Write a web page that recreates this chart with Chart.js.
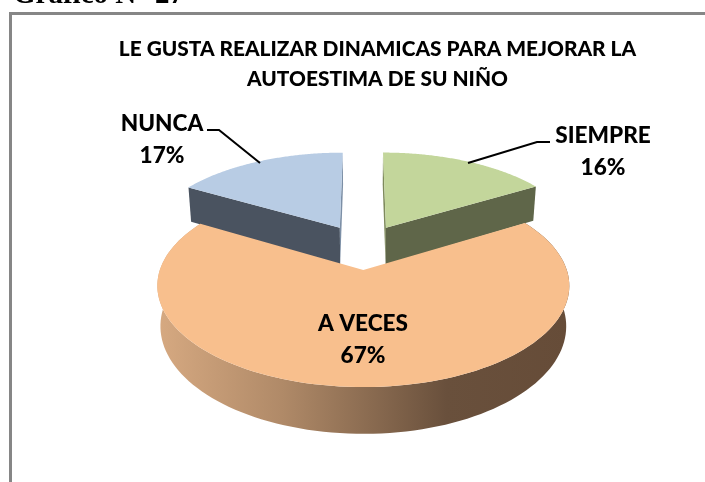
<!DOCTYPE html>
<html><head><meta charset="utf-8">
<script src="https://cdn.jsdelivr.net/npm/chart.js@4"></script>
<style>
html,body{margin:0;padding:0;background:#fff;overflow:hidden}
#wrap{position:relative;width:705px;height:482px;overflow:hidden}
#head{position:absolute;left:13px;top:-23px;font:bold 29px/32px "Liberation Serif",serif;color:#000;white-space:nowrap}
#frame{position:absolute;left:9px;top:12px;right:-10px;bottom:-10px;border:3px solid #868686;box-sizing:border-box}
canvas{position:absolute;left:0;top:0}
</style></head><body>
<div id="wrap">
<canvas id="c" width="705" height="482"></canvas>
<div id="frame"></div>
<div id="head">Gráfico N° 27</div>
</div>
<script>
const categories = ["SIEMPRE", "A VECES", "NUNCA"];
const values = [16.4, 67, 16.6];
const titleLines = ["LE GUSTA REALIZAR DINAMICAS PARA MEJORAR LA", "AUTOESTIMA DE SU NIÑO"];
const topColors = ["#C3D69B", "#F8BF8D", "#B8CCE4"];
const sideColors = ["#5F6649", "#664C38", "#4A5360"];
const edgeColors = ["#7E8A5C", "#664C38", "#7C8FA6"];

// view of the tilted pie
const CX = 363, CY = 246.7, AX = 196, BY = 91.7, PERSP = 0.15, DEPTH = 38, BASE_X = 0.985, EXPLODE = 0.245;
function proj(u, v, low) {
  const w = 1 - PERSP * v;
  return [CX + AX * u / w * (low ? BASE_X : 1), CY + (BY * v + (low ? DEPTH : 0)) / w];
}
function slicePts(arc, low) {
  const p = arc.getProps(["startAngle", "endAngle"], true);
  const mid = (p.startAngle + p.endAngle) / 2;
  const ox = Math.cos(mid) * EXPLODE, oy = Math.sin(mid) * EXPLODE;
  const pts = [], n = 120;
  for (let i = 0; i <= n; i++) {
    const a = p.startAngle + (p.endAngle - p.startAngle) * i / n;
    pts.push(proj(Math.cos(a) + ox, Math.sin(a) + oy, low));
  }
  return { apex: proj(ox, oy, low), rim: pts };
}
function poly(ctx, pts, fill) {
  ctx.beginPath();
  pts.forEach((q, i) => i ? ctx.lineTo(q[0], q[1]) : ctx.moveTo(q[0], q[1]));
  ctx.closePath();
  ctx.fillStyle = fill; ctx.fill();
}
const tilted = {
  id: "tilted",
  beforeDatasetDraw(chart) {
    const ctx = chart.ctx, arcs = chart.getDatasetMeta(0).data;
    [0, 2, 1].forEach(i => {
      const T = slicePts(arcs[i], false), L = slicePts(arcs[i], true);
      if (i === 1) {
        const g = ctx.createLinearGradient(158, 0, 570, 0);
        g.addColorStop(0, "#D6A981"); g.addColorStop(0.3, "#B08A68");
        g.addColorStop(0.7, "#69503C"); g.addColorStop(1, sideColors[1]);
        poly(ctx, T.rim.concat(L.rim.slice().reverse()), g);
      } else {
        const last = T.rim.length - 1;
        const a0 = [T.apex, T.rim[0], L.rim[0], L.apex];
        const a1 = [T.apex, T.rim[last], L.rim[last], L.apex];
        poly(ctx, a0, i === 0 ? edgeColors[i] : sideColors[i]);
        poly(ctx, a1, i === 0 ? sideColors[i] : edgeColors[i]);
      }
      poly(ctx, [T.apex].concat(T.rim), topColors[i]);
    });
    return false;
  },
  afterDraw(chart) {
    const ctx = chart.ctx;
    ctx.save();
    ctx.strokeStyle = "#000"; ctx.lineWidth = 2;
    [[[207,130],[219,130],[260,163]], [[550,142],[537,142],[468,163]]].forEach(l => {
      ctx.beginPath();
      l.forEach((q, i) => i ? ctx.lineTo(q[0], q[1]) : ctx.moveTo(q[0], q[1]));
      ctx.stroke();
    });
    ctx.fillStyle = "#000"; ctx.textAlign = "center"; ctx.textBaseline = "middle";
    ctx.font = '900 22.6px Lato';
    const pos = [[603, 136, 168], [363, 324, 356], [162, 124, 156]];
    categories.forEach((c, i) => {
      ctx.fillText(c, pos[i][0], pos[i][1]);
      ctx.fillText(Math.round(values[i]) + "%", pos[i][0], pos[i][2]);
    });
    ctx.restore();
  }
};
new Chart(document.getElementById("c"), {
  type: "pie",
  data: { labels: categories, datasets: [{ data: values, backgroundColor: topColors, borderWidth: 0, offset: 30 }] },
  options: {
    responsive: false, animation: false,
    layout: { padding: { top: 35, left: 50 } },
    plugins: {
      legend: { display: false }, tooltip: { enabled: false },
      title: { display: true, text: titleLines, color: "#000", font: { family: "Lato", size: 20.85, weight: "900", lineHeight: 1.41 }, padding: { top: 0, bottom: 0 } }
    }
  },
  plugins: [tilted]
});
</script>
</body></html>
